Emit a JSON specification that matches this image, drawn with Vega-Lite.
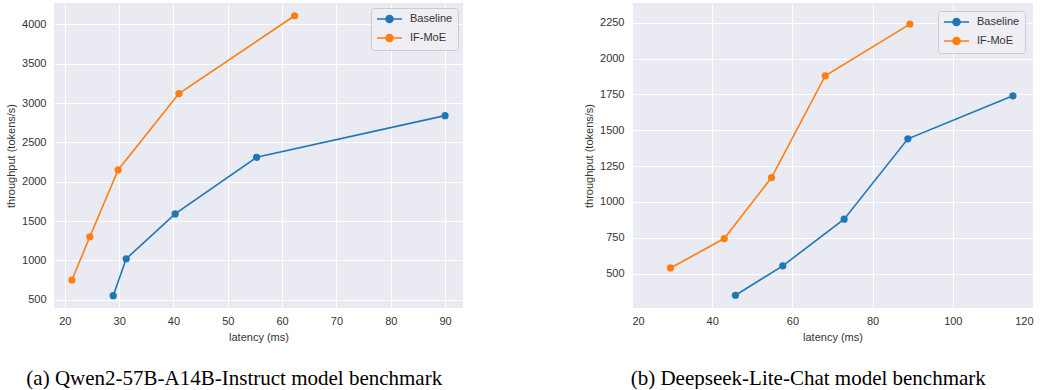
{
  "$schema": "https://vega.github.io/schema/vega-lite/v6.json",
  "padding": {"left": 5, "top": 3, "right": 5, "bottom": 0},
  "spacing": 120,
  "resolve": {"scale": {"color": "independent"}, "legend": {"color": "independent"}},
  "hconcat": [
    {
      "width": 409,
      "height": 305,
      "title": {"text": "(a) Qwen2-57B-A14B-Instruct model benchmark"},
      "data": {"values": [
        {"method": "Baseline", "latency": 28.9, "throughput": 550},
        {"method": "Baseline", "latency": 31.3, "throughput": 1020},
        {"method": "Baseline", "latency": 40.3, "throughput": 1590},
        {"method": "Baseline", "latency": 55.3, "throughput": 2310},
        {"method": "Baseline", "latency": 90.0, "throughput": 2840},
        {"method": "IF-MoE", "latency": 21.3, "throughput": 750},
        {"method": "IF-MoE", "latency": 24.6, "throughput": 1300},
        {"method": "IF-MoE", "latency": 29.8, "throughput": 2150},
        {"method": "IF-MoE", "latency": 41.0, "throughput": 3120},
        {"method": "IF-MoE", "latency": 62.3, "throughput": 4110}
      ]},
      "encoding": {
        "x": {"field": "latency", "type": "quantitative", "title": "latency (ms)",
              "scale": {"domain": [18, 93.3], "nice": false, "zero": false},
              "axis": {"values": [20, 30, 40, 50, 60, 70, 80, 90]}},
        "y": {"field": "throughput", "type": "quantitative", "title": "throughput (tokens/s)",
              "scale": {"domain": [394, 4272], "nice": false, "zero": false},
              "axis": {"values": [500, 1000, 1500, 2000, 2500, 3000, 3500, 4000]}},
        "color": {"field": "method", "type": "nominal", "title": null,
                  "scale": {"domain": ["Baseline", "IF-MoE"], "range": ["#1f77b4", "#ff7f0e"]},
                  "legend": {"offset": 5}}
      },
      "layer": [
        {"mark": {"type": "line", "strokeWidth": 1.6}},
        {"mark": {"type": "point", "filled": true, "size": 52, "opacity": 1}}
      ]
    },
    {
      "width": 401,
      "height": 305,
      "title": {"text": "(b) Deepseek-Lite-Chat model benchmark"},
      "data": {"values": [
        {"method": "Baseline", "latency": 45.8, "throughput": 350},
        {"method": "Baseline", "latency": 57.6, "throughput": 555},
        {"method": "Baseline", "latency": 72.9, "throughput": 880},
        {"method": "Baseline", "latency": 88.8, "throughput": 1440},
        {"method": "Baseline", "latency": 115.0, "throughput": 1740},
        {"method": "IF-MoE", "latency": 29.6, "throughput": 540},
        {"method": "IF-MoE", "latency": 43.0, "throughput": 745},
        {"method": "IF-MoE", "latency": 54.8, "throughput": 1170},
        {"method": "IF-MoE", "latency": 68.2, "throughput": 1880},
        {"method": "IF-MoE", "latency": 89.3, "throughput": 2240}
      ]},
      "encoding": {
        "x": {"field": "latency", "type": "quantitative", "title": "latency (ms)",
              "scale": {"domain": [20, 120], "nice": false, "zero": false},
              "axis": {"values": [20, 40, 60, 80, 100, 120]}},
        "y": {"field": "throughput", "type": "quantitative", "title": "throughput (tokens/s)",
              "scale": {"domain": [261, 2387], "nice": false, "zero": false},
              "axis": {"values": [500, 750, 1000, 1250, 1500, 1750, 2000, 2250]}},
        "color": {"field": "method", "type": "nominal", "title": null,
                  "scale": {"domain": ["Baseline", "IF-MoE"], "range": ["#1f77b4", "#ff7f0e"]},
                  "legend": {"offset": 8}}
      },
      "layer": [
        {"mark": {"type": "line", "strokeWidth": 1.6}},
        {"mark": {"type": "point", "filled": true, "size": 52, "opacity": 1}}
      ]
    }
  ],
  "config": {
    "view": {"fill": "#EAEAF2", "stroke": null},
    "axis": {
      "domain": false, "ticks": false, "gridColor": "#FFFFFF", "gridWidth": 1, "format": "d",
      "labelFont": "Liberation Sans", "labelFontSize": 11, "labelColor": "#333333",
      "titleFont": "Liberation Sans", "titleFontSize": 11, "titleFontWeight": "normal", "titleColor": "#333333"
    },
    "axisX": {"labelPadding": 7, "titlePadding": 5},
    "axisY": {"labelPadding": 8, "titlePadding": 5},
    "legend": {
      "orient": "top-right", "fillColor": "#EEEEF4", "strokeColor": "#CCCCCC", "cornerRadius": 3,
      "padding": 5, "labelFont": "Liberation Sans", "labelFontSize": 11, "labelColor": "#333333",
      "symbolType": "M-1,0H4M0.8,0A0.7,0.7 0 1,0 2.2,0A0.7,0.7 0 1,0 0.8,0Z",
      "symbolSize": 100, "symbolStrokeWidth": 1.6, "rowPadding": 5, "labelOffset": 22
    },
    "title": {"orient": "bottom", "font": "Liberation Serif", "fontSize": 21, "fontWeight": "normal", "color": "#000000", "offset": 26, "anchor": "middle", "frame": "bounds"}
  }
}
